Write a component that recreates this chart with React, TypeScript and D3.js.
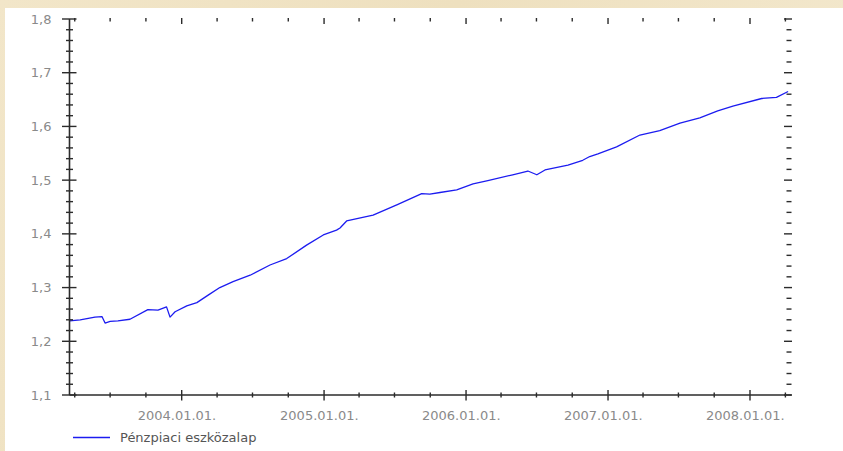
import React from "react";
import * as d3 from "d3";

const W = 843;
const H = 451;

// Series: Pénzpiaci eszközalap (date, value)
const dates: string[] = [
  "2003-03-19", "2003-04-15", "2003-05-23", "2003-06-10", "2003-06-18", "2003-07-01",
  "2003-07-21", "2003-08-21", "2003-10-06", "2003-11-01", "2003-11-23", "2003-12-02",
  "2003-12-15", "2004-01-14", "2004-02-09", "2004-03-09", "2004-04-08", "2004-05-12",
  "2004-06-25", "2004-08-15", "2004-09-27", "2004-11-17", "2004-12-30", "2005-02-02",
  "2005-02-11", "2005-02-28", "2005-05-07", "2005-07-07", "2005-09-09", "2005-09-30",
  "2005-10-26", "2005-12-08", "2006-01-19", "2006-02-26", "2006-05-01", "2006-06-09",
  "2006-07-02", "2006-07-23", "2006-09-20", "2006-10-28", "2006-11-15", "2006-12-06",
  "2007-01-23", "2007-03-24", "2007-05-14", "2007-07-05", "2007-08-25", "2007-10-10",
  "2007-11-18", "2008-01-31", "2008-03-09", "2008-04-08",
];
const values: number[] = [
  1.238, 1.240, 1.245, 1.246, 1.234, 1.237,
  1.238, 1.241, 1.259, 1.258, 1.264, 1.245,
  1.255, 1.266, 1.272, 1.286, 1.300, 1.311,
  1.323, 1.342, 1.354, 1.379, 1.398, 1.407,
  1.411, 1.424, 1.435, 1.454, 1.475, 1.474,
  1.477, 1.482, 1.493, 1.499, 1.510, 1.517,
  1.510, 1.519, 1.528, 1.537, 1.544, 1.549,
  1.562, 1.584, 1.592, 1.606, 1.616, 1.629,
  1.638, 1.652, 1.654, 1.665,
];

const yMajorValues: number[] = [1.1, 1.2, 1.3, 1.4, 1.5, 1.6, 1.7, 1.8];
const yTickLabels: string[] = ["1,1", "1,2", "1,3", "1,4", "1,5", "1,6", "1,7", "1,8"];
const xMajorDates: string[] = ["2004-01-01", "2005-01-01", "2006-01-01", "2007-01-01", "2008-01-01"];
const xTickLabels: string[] = ["2004.01.01.", "2005.01.01.", "2006.01.01.", "2007.01.01.", "2008.01.01."];
const legendLabel = "Pénzpiaci eszközalap";

const parse = d3.timeParse("%Y-%m-%d");

export default function App() {
  const left = 69.5;
  const right = 789;
  const top = 19;
  const bottom = 395;

  // x scale anchored on 2004-01-01 and 2008-01-01 positions
  const xAnchor = d3
    .scaleTime()
    .domain([parse("2004-01-01")!, parse("2008-01-01")!])
    .range([181.7, 750]);
  const x = d3
    .scaleTime()
    .domain([xAnchor.invert(left), xAnchor.invert(right)])
    .range([left, right]);
  const y = d3.scaleLinear().domain([1.1, 1.8]).range([bottom, top]);

  const data = dates.map((d, i) => ({ date: parse(d)!, value: values[i] }));
  const line = d3
    .line<{ date: Date; value: number }>()
    .x((d) => x(d.date))
    .y((d) => y(d.value));

  const quarterTicks = d3.timeMonth.every(3)!.range(x.domain()[0], x.domain()[1]);
  const yMinor = d3.range(0, 36).map((i) => +(1.1 + i * 0.02).toFixed(2));
  const isMajorY = (v: number) => Math.abs(v * 10 - Math.round(v * 10)) < 1e-6;

  const axisColor = "#2b2b2b";
  const labelColor = "#8a8a8a";
  const font = "'DejaVu Sans', Verdana, sans-serif";

  return (
    <svg
      width={W}
      height={H}
      style={{ position: "absolute", left: 0, top: 0, display: "block" }}
    >
      <defs>
        <linearGradient id="parch" x1="0" y1="0" x2="1" y2="0.3">
          <stop offset="0" stopColor="#f2e6c9" />
          <stop offset="0.5" stopColor="#eee0bf" />
          <stop offset="1" stopColor="#f3e8cd" />
        </linearGradient>
      </defs>
      <rect x={0} y={0} width={W} height={H} fill="url(#parch)" />
      <rect x={5} y={8} width={W - 5} height={H - 8} fill="#ffffff" />

      {/* series */}
      <path d={line(data) || ""} fill="none" stroke="#1c1cf0" strokeWidth={1.3} strokeLinejoin="round" />

      {/* left axis */}
      <line x1={left} x2={left} y1={top} y2={bottom} stroke={axisColor} strokeWidth={1.6} />
      {yMinor.map((v) => {
        const major = isMajorY(v);
        return (
          <g key={"yl" + v}>
            <line
              x1={left - (major ? 7.5 : 3.5)}
              x2={left + (major ? 7 : 3.5)}
              y1={y(v)}
              y2={y(v)}
              stroke={axisColor}
              strokeWidth={1.4}
            />
            <line
              x1={right - (major ? 5 : 2.5)}
              x2={right + (major ? 3 : 2.5)}
              y1={y(v)}
              y2={y(v)}
              stroke={axisColor}
              strokeWidth={1.4}
            />
          </g>
        );
      })}
      {yMajorValues.map((v, i) => (
        <text
          key={"yt" + v}
          x={51.5}
          y={y(v) + 4.5}
          textAnchor="end"
          fontFamily={font}
          fontSize={13}
          fill={labelColor}
        >
          {yTickLabels[i]}
        </text>
      ))}

      {/* bottom axis */}
      <line x1={left} x2={right + 2.5} y1={bottom} y2={bottom} stroke={axisColor} strokeWidth={1.6} />
      {quarterTicks.map((d) => {
        const major = d.getMonth() === 0;
        const xx = x(d);
        return (
          <g key={"xt" + d.getTime()}>
            <line
              x1={xx}
              x2={xx}
              y1={bottom - (major ? 5 : 2.5)}
              y2={bottom + (major ? 5.5 : 2.5)}
              stroke={axisColor}
              strokeWidth={1.4}
            />
            <line
              x1={xx}
              x2={xx}
              y1={top - 1}
              y2={top + (major ? 5 : 2.5)}
              stroke={axisColor}
              strokeWidth={1.4}
            />
          </g>
        );
      })}
      {xMajorDates.map((d, i) => (
        <text
          key={"xl" + d}
          x={x(parse(d)!) - 44}
          y={420}
          textAnchor="start"
          fontFamily={font}
          fontSize={13}
          fill={labelColor}
        >
          {xTickLabels[i]}
        </text>
      ))}

      {/* legend */}
      <line x1={73} x2={110} y1={437.5} y2={437.5} stroke="#1c1cf0" strokeWidth={1.3} />
      <text x={120} y={442} fontFamily={font} fontSize={13} fill="#555555">
        {legendLabel}
      </text>
    </svg>
  );
}
